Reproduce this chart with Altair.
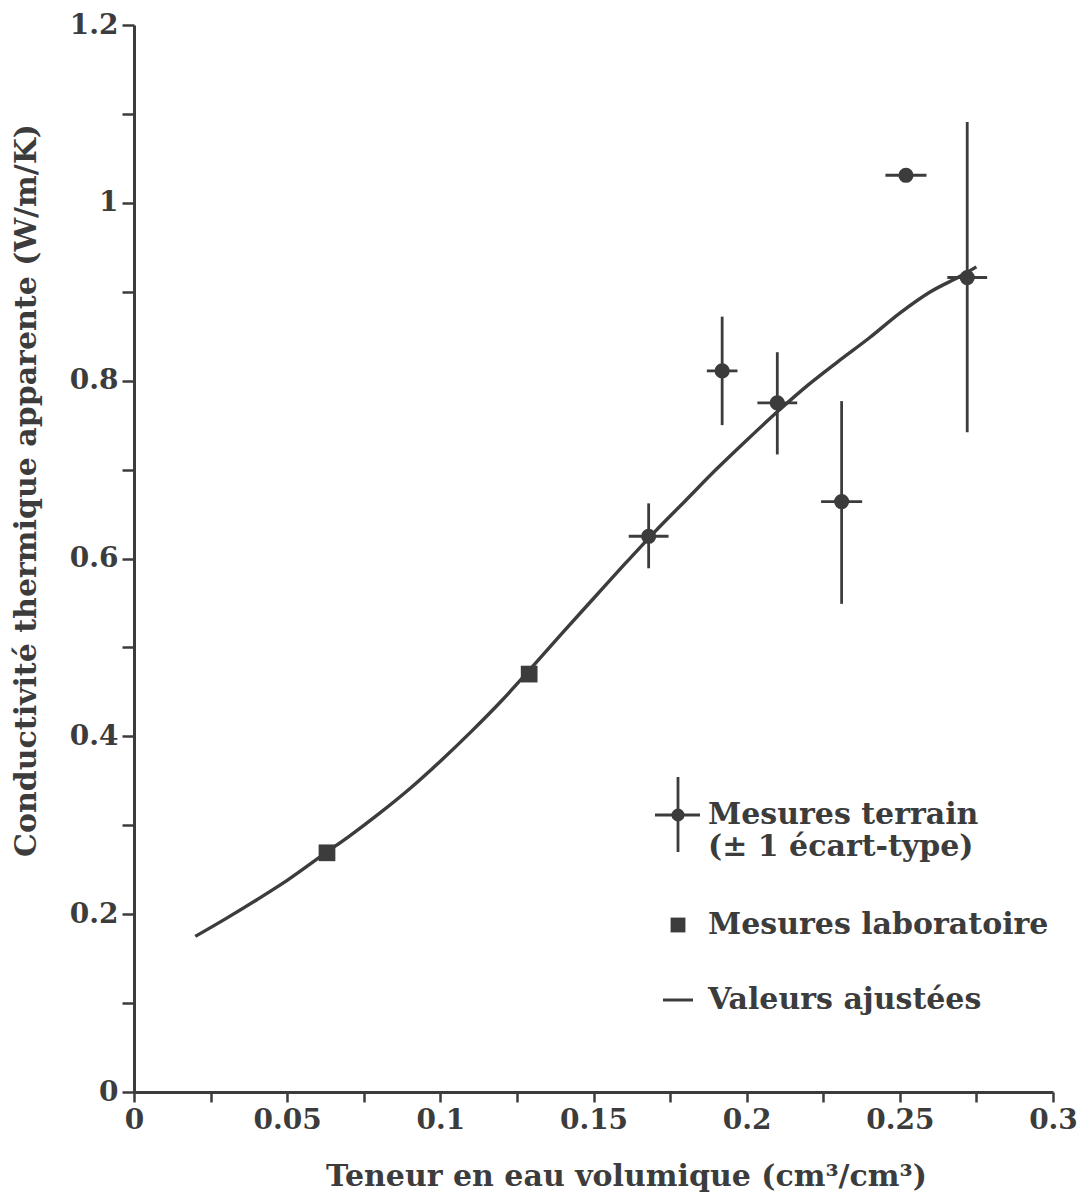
import altair as alt
import pandas as pd

# ---- data ----
field_x = [0.168, 0.192, 0.210, 0.231, 0.252, 0.272]
field_y = [0.625, 0.811, 0.775, 0.664, 1.031, 0.916]
field_ylo = [0.589, 0.750, 0.717, 0.549, 1.031, 0.742]
field_yhi = [0.662, 0.872, 0.832, 0.777, 1.031, 1.091]
field_xerr = [0.0065, 0.005, 0.0065, 0.0067, 0.0067, 0.0065]

lab_x = [0.063, 0.129]
lab_y = [0.269, 0.470]

fit_x = [0.020, 0.030, 0.040, 0.050, 0.063, 0.070, 0.080, 0.090, 0.100, 0.110,
         0.120, 0.130, 0.140, 0.150, 0.160, 0.170, 0.180, 0.190, 0.200, 0.210,
         0.220, 0.230, 0.240, 0.250, 0.260, 0.270, 0.275]
fit_y = [0.175, 0.195, 0.216, 0.238, 0.270, 0.287, 0.313, 0.341, 0.372, 0.405,
         0.440, 0.478, 0.517, 0.555, 0.593, 0.630, 0.665, 0.700, 0.733, 0.765,
         0.795, 0.822, 0.848, 0.876, 0.900, 0.918, 0.928]

x_ticks = [0, 0.025, 0.05, 0.075, 0.1, 0.125, 0.15, 0.175, 0.2, 0.225, 0.25, 0.275, 0.3]
y_ticks = [0, 0.1, 0.2, 0.3, 0.4, 0.5, 0.6, 0.7, 0.8, 0.9, 1.0, 1.1, 1.2]

legend_lines = ["Mesures terrain", "(± 1 écart-type)", "Mesures laboratoire", "Valeurs ajustées"]

INK = "#3c3c3c"
FONT = "DejaVu Serif"

field = pd.DataFrame({
    "x": field_x, "y": field_y, "ylo": field_ylo, "yhi": field_yhi,
    "xlo": [a - b for a, b in zip(field_x, field_xerr)],
    "xhi": [a + b for a, b in zip(field_x, field_xerr)],
})
lab = pd.DataFrame({"x": lab_x, "y": lab_y})
fit = pd.DataFrame({"x": fit_x, "y": fit_y})
one = pd.DataFrame({"k": [0]})

xscale = alt.Scale(domain=[0, 0.3], nice=False, zero=False)
yscale = alt.Scale(domain=[0, 1.2], nice=False, zero=False)

xaxis = alt.Axis(
    values=x_ticks,
    labelExpr="round(datum.value*1000) % 50 == 0 ? format(datum.value, '~g') : ''",
    title="Teneur en eau volumique (cm³/cm³)",
    titleX=492, titleY=84, titleBaseline="middle", titleAnchor="middle", titleAlign="center",
    grid=False, tickSize=10, tickWidth=2.5, domainWidth=3,
    labelPadding=4, labelFlush=False,
)
yaxis = alt.Axis(
    values=y_ticks,
    labelExpr="round(datum.value*10) % 2 == 0 ? format(datum.value, '~g') : ''",
    title="Conductivité thermique apparente (W/m/K)",
    titleX=-108, titleY=465, titleAngle=-90, titleBaseline="middle", titleAlign="center",
    titleAnchor="middle",
    grid=False, tickSize=12, tickWidth=2.5, domainWidth=3,
    labelPadding=4, labelFlush=False,
)

curve = alt.Chart(fit).mark_line(color=INK, strokeWidth=3.4, interpolate="monotone").encode(
    x=alt.X("x:Q", scale=xscale, axis=xaxis),
    y=alt.Y("y:Q", scale=yscale, axis=yaxis),
)

vbars = alt.Chart(field).mark_rule(color=INK, strokeWidth=2.8).encode(
    x="x:Q", y="ylo:Q", y2="yhi:Q"
)
hbars = alt.Chart(field).mark_rule(color=INK, strokeWidth=2.8).encode(
    x="xlo:Q", x2="xhi:Q", y="y:Q"
)
dots = alt.Chart(field).mark_circle(color=INK, opacity=1, size=230).encode(
    x="x:Q", y="y:Q"
)
squares = alt.Chart(lab).mark_square(color=INK, opacity=1, size=280).encode(
    x="x:Q", y="y:Q"
)

# ---- hand-built legend (pixel positions inside the plot area) ----
leg_h = alt.Chart(one).mark_rule(color=INK, strokeWidth=2.8).encode(
    x=alt.value(521), x2=alt.value(566), y=alt.value(790))
leg_v = alt.Chart(one).mark_rule(color=INK, strokeWidth=2.8).encode(
    x=alt.value(544), y=alt.value(752), y2=alt.value(827))
leg_dot = alt.Chart(one).mark_circle(color=INK, opacity=1, size=170).encode(
    x=alt.value(544), y=alt.value(790))
leg_sq = alt.Chart(one).mark_square(color=INK, opacity=1, size=220).encode(
    x=alt.value(544), y=alt.value(900))
leg_line = alt.Chart(one).mark_rule(color=INK, strokeWidth=3).encode(
    x=alt.value(529), x2=alt.value(559), y=alt.value(975))

def leg_text(txt, ypix):
    return alt.Chart(one).mark_text(
        text=txt, align="left", baseline="middle", font=FONT, fontWeight="bold",
        fontSize=30, color=INK,
    ).encode(x=alt.value(574), y=alt.value(ypix))

legend = (leg_h + leg_v + leg_dot + leg_sq + leg_line
          + leg_text(legend_lines[0], 790) + leg_text(legend_lines[1], 822)
          + leg_text(legend_lines[2], 900) + leg_text(legend_lines[3], 975))

chart = alt.layer(curve, vbars, hbars, dots, squares, legend).properties(
    width=919, height=1067,
    autosize=alt.AutoSizeParams(type="none"),
    padding={"left": 126, "top": 17, "right": 26, "bottom": 104},
    background="white",
).configure_view(stroke=None).configure_axis(
    domainColor=INK, tickColor=INK, labelColor=INK, titleColor=INK,
    labelFont=FONT, titleFont=FONT, labelFontWeight="bold", titleFontWeight="bold",
    labelFontSize=28, titleFontSize=30,
)

chart.save("out.html", embed_options={"renderer": "svg", "actions": False})
